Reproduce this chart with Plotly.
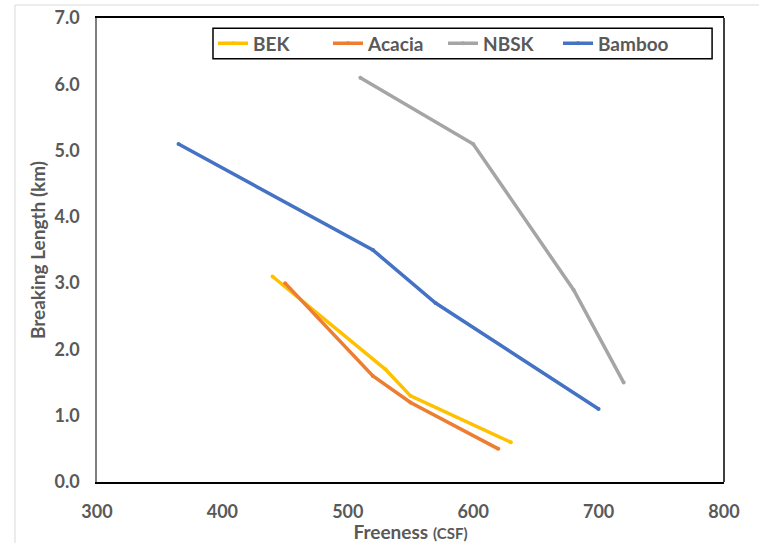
import plotly.graph_objects as go

bek_x = [440, 530, 550, 630]
bek_y = [3.1, 1.7, 1.3, 0.6]
acacia_x = [450, 520, 550, 620]
acacia_y = [3.0, 1.6, 1.2, 0.5]
nbsk_x = [510, 600, 680, 720]
nbsk_y = [6.1, 5.1, 2.9, 1.5]
bamboo_x = [365, 520, 570, 700]
bamboo_y = [5.1, 3.5, 2.7, 1.1]

series = [
    ("BEK", bek_x, bek_y, "#FFC000"),
    ("Acacia", acacia_x, acacia_y, "#ED7D31"),
    ("NBSK", nbsk_x, nbsk_y, "#A5A5A5"),
    ("Bamboo", bamboo_x, bamboo_y, "#4472C4"),
]

x_ticks = [300, 400, 500, 600, 700, 800]
y_ticks = [0, 1, 2, 3, 4, 5, 6, 7]

FONT = "Lato"
GRAY = "#595959"

fig = go.Figure()
for name, xs, ys, col in series:
    fig.add_trace(go.Scatter(
        x=xs, y=ys, name=name, mode="lines+markers",
        line=dict(color=col, width=3.5),
        marker=dict(color=col, size=4),
    ))

fig.update_layout(
    width=759, height=543,
    margin=dict(l=97, r=35, t=18, b=61, autoexpand=False),
    paper_bgcolor="white", plot_bgcolor="white",
    font=dict(family=FONT, color=GRAY),
    showlegend=True,
    legend=dict(
        orientation="h", x=0.185, y=0.945, xanchor="left", yanchor="middle",
        borderwidth=0, bgcolor="rgba(0,0,0,0)",
        font=dict(family=FONT, size=19, color=GRAY, weight="bold"),
        entrywidth=70, tracegroupgap=0,
    ),
    xaxis=dict(
        range=[300, 800], tickvals=x_ticks, ticktext=[str(v) for v in x_ticks],
        showgrid=False, zeroline=False, automargin=False,
        showline=True, linecolor="black", linewidth=1.5, mirror=True,
        ticks="", ticklabelstandoff=13, ticklabeloverflow="allow",
        tickfont=dict(family=FONT, size=18, color=GRAY, weight="bold"),
        title=dict(text="<b>Freeness</b> <span style='font-size:15px'><b>(CSF)</b></span>",
                   font=dict(family=FONT, size=19, color=GRAY), standoff=2),
    ),
    yaxis=dict(
        range=[0, 7], tickvals=y_ticks, ticktext=[f"{v:.1f}" for v in y_ticks],
        showgrid=False, zeroline=False, automargin=False,
        showline=True, linecolor="#7f7f7f", linewidth=1.5,
        ticks="", ticklabelstandoff=12, ticklabeloverflow="allow",
        tickfont=dict(family=FONT, size=18, color=GRAY, weight="bold"),
        title=dict(text="<b>Breaking Length (km)</b>",
                   font=dict(family=FONT, size=19, color=GRAY), standoff=4),
    ),
    shapes=[
        dict(type="line", xref="paper", yref="paper", x0=1, x1=1, y0=0, y1=1,
             line=dict(color="black", width=1.5)),
        dict(type="rect", xref="paper", yref="paper", x0=0.185, x1=0.981, y0=0.912, y1=0.978,
             line=dict(color="black", width=1.5), fillcolor="white", layer="above"),
        dict(type="line", xref="paper", yref="paper", x0=-0.1308, x1=-0.1308, y0=-0.2, y1=1.028,
             line=dict(color="#d9d9d9", width=1)),
        dict(type="line", xref="paper", yref="paper", x0=-0.1308, x1=1.1, y0=1.028, y1=1.028,
             line=dict(color="#d9d9d9", width=1)),
    ],
)

fig.write_html("out.html", config={"displayModeBar": False},
               post_script="document.body.style.margin='0';")
